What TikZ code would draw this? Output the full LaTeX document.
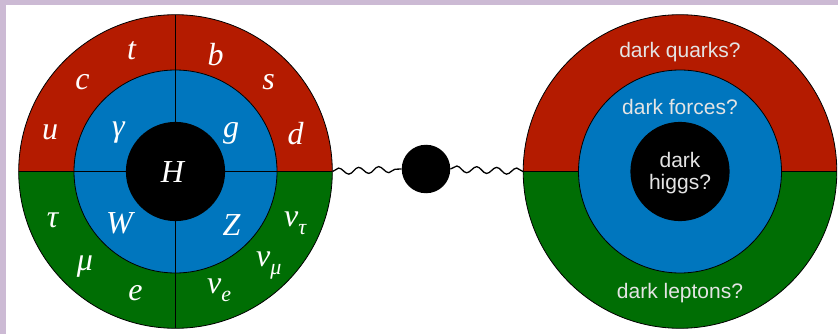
\documentclass[tikz,border=0pt]{standalone}
\usepackage{fontspec}
\setmainfont{Liberation Serif}
\newfontfamily\darkfont{Liberation Sans}
\usetikzlibrary{decorations.pathmorphing}
\definecolor{quarkred}{RGB}{180,27,0}
\definecolor{forceblue}{RGB}{0,118,190}
\definecolor{leptongreen}{RGB}{0,110,4}
\definecolor{framepurple}{RGB}{204,186,212}
\definecolor{darktext}{RGB}{228,228,228}
\newcommand{\nusub}[1]{ν\raisebox{-0.28em}{\fontsize{22}{22}\selectfont #1}}

\begin{document}
\begin{tikzpicture}
[x=1pt,y=-1pt,every node/.style={inner sep=0pt, text=white},
 sm/.style={font=\fontsize{32}{32}\selectfont\itshape},
 dark/.style={font=\darkfont\fontsize{21}{22}\selectfont, text=darktext, align=center},
 wave/.style={decorate, decoration={snake, segment length=20pt, amplitude=3.2pt}, line width=1.3pt}]
\def \ro {156.8}
\def \rm {101.5}
\def \ri {49.6}
\useasboundingbox (0,0) rectangle (838,334);
\fill[framepurple] (0,0) rectangle (838,334);
\fill[white] (6,5) rectangle (838,334);

% standard model
\begin{scope}[shift={(175.5,171.5)}]
  \begin{scope}
    \clip (-\ro,-\ro) rectangle (\ro,0);
    \fill[quarkred] (0,0) circle (\ro);
  \end{scope}
  \begin{scope}
    \clip (-\ro,0) rectangle (\ro,\ro);
    \fill[leptongreen] (0,0) circle (\ro);
  \end{scope}
  \filldraw[fill=forceblue, draw=black, line width=0.8pt] (0,0) circle (\rm);
  \draw[line width=0.8pt] (0,-\ro) -- (0,\ro);
  \draw[line width=0.8pt] (-\ro,0) -- (\ro,0);
  \fill[black] (0,0) circle (\ri);
  \draw[line width=0.8pt] (0,0) circle (\ro);
\end{scope}
\node[circle, minimum size=2*\ro pt] (sm) at (175.5,171.5) {};

\foreach \x/\y/\n/\t in {131.5/50.5/t/t, 215.5/55/b/b, 82.5/82.5/c/c, 268.5/82.5/s/s,
  50/132.5/u/u, 295.5/133.5/d/d, 118.5/133/gamma/γ, 231/133/g/g, 172.5/172/H/H,
  52.5/220/tau/τ, 119.5/223/W/W, 231.5/225/Z/Z, 85/267/mu/μ, 135.5/293.5/e/e}
{
  \node[sm] (\n) at (\x,\y) {\t};
}
\foreach \x/\y/\n/\t in {284/226/nutau/τ, 256/266/numu/μ, 207/293/nue/e}
{
  \node[sm, anchor=base west] (\n) at (\x,\y) {\nusub{\t}};
}

% dark sector
\begin{scope}[shift={(680,171.5)}]
  \begin{scope}
    \clip (-\ro,-\ro) rectangle (\ro,0);
    \fill[quarkred] (0,0) circle (\ro);
  \end{scope}
  \begin{scope}
    \clip (-\ro,0) rectangle (\ro,\ro);
    \fill[leptongreen] (0,0) circle (\ro);
  \end{scope}
  \draw[line width=0.8pt] (-\ro,0) -- (\ro,0);
  \filldraw[fill=forceblue, draw=black, line width=0.8pt] (0,0) circle (\rm);
  \fill[black] (0,0) circle (\ri);
  \draw[line width=0.8pt] (0,0) circle (\ro);
\end{scope}
\node[circle, minimum size=2*\ro pt] (ds) at (680,171.5) {};

\node[dark] (dquarks) at (680,52) {dark quarks?};
\node[dark] (dforces) at (680,107) {dark forces?};
\node[dark] (dhiggs) at (680,173) {dark\\higgs?};
\node[dark] (dleptons) at (680,293) {dark leptons?};

% portal
\node[circle, fill=black, minimum size=48.5pt] (portal) at (426,169) {};
\draw[wave] (sm.east) -- (portal.west);
\draw[wave] (portal.east) -- (ds.west);
\end{tikzpicture}
\end{document}
